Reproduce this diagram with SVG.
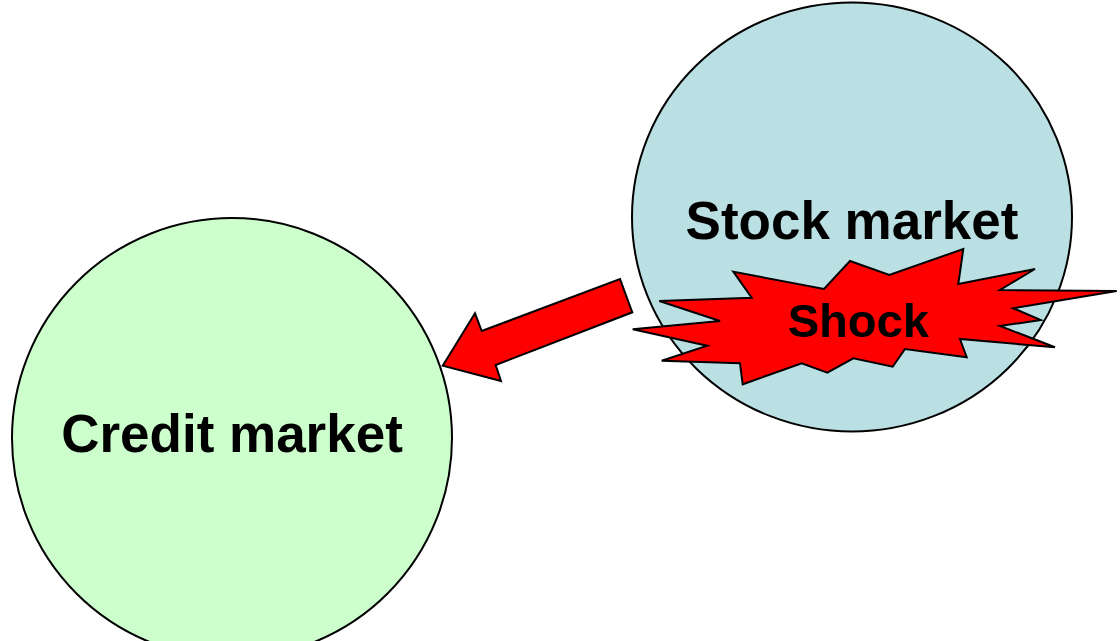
<svg xmlns="http://www.w3.org/2000/svg" width="1120" height="641" viewBox="0 0 1120 641">
<style>
.node{stroke:#000;stroke-width:2}
.lbl{font-family:"Liberation Sans",Arial,sans-serif;font-weight:bold;fill:#000;text-anchor:middle}
.red{fill:#ff0000;stroke:#000;stroke-width:2;stroke-linejoin:miter}
</style>
<rect width="1120" height="641" fill="#fff"/>
<g id="credit">
<circle class="node" cx="232" cy="438" r="220" fill="#ccffcc"/>
<text class="lbl" x="232" y="452" font-size="53">Credit market</text>
</g>
<g id="stock">
<ellipse class="node" cx="852" cy="217" rx="220" ry="214.5" fill="#bbe0e3"/>
<text class="lbl" x="852" y="239" font-size="53">Stock market</text>
</g>
<g id="connectors">
<polygon class="red" points="442.7,365.7 475,313.3 481.7,331 620,279 632.3,312.3 495.7,365 501,381"/>
</g>
<g id="shock">
<polygon class="red" points="733.3,271.7 824,289 850,261 889.3,275 963.3,249 958.3,284 1035,269 1000,290 1116.7,291 1013.3,308.3 1040.7,320 1000,326 1055,347.3 960,339 966.7,357.3 905,349 892.7,366.7 853.3,358.3 827.3,372.7 801.7,363.3 742.7,384.3 740,363.3 661.7,360.7 707.3,345.7 632.7,329.3 720,321 659.3,301 751.7,297.7"/>
<text class="lbl" x="858" y="337" font-size="47">Shock</text>
</g>
</svg>
